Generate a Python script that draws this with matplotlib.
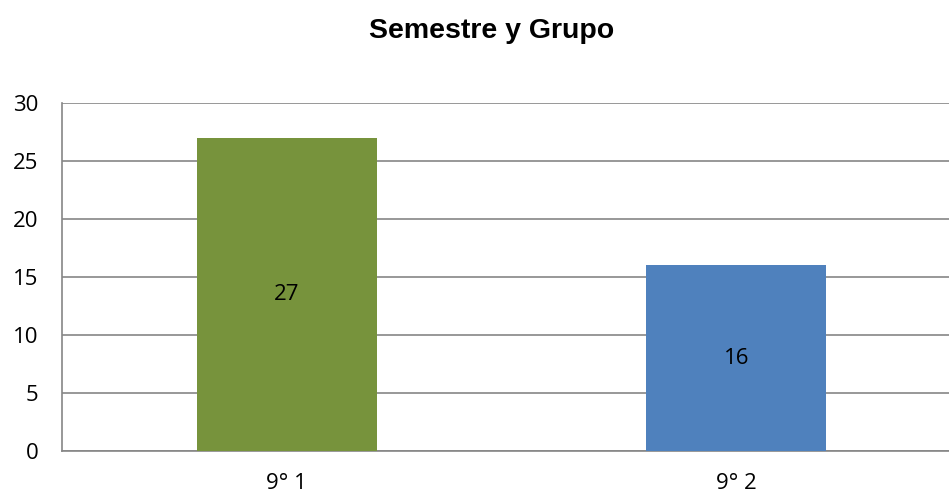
import matplotlib.pyplot as plt
import numpy as np

# data
grupos = ['9° 1', '9° 2']
valores = [27, 16]
colores = ['#77933C', '#4F81BD']

plt.rcParams['font.family'] = ['Open Sans', 'DejaVu Sans']

fig = plt.figure(figsize=(9.49, 4.95), dpi=100)
ax = fig.add_axes([62 / 949, 44 / 495, 899 / 949, 348 / 495])

x = np.arange(len(grupos))
bars = ax.bar(x, valores, width=0.4, color=colores, zorder=3)

# etiquetas dentro de las barras
for b, v in zip(bars, valores):
    ax.text(b.get_x() + b.get_width() / 2, v / 2, str(v),
            ha='center', va='center', fontsize=16, zorder=4)

ax.set_xlim(-0.5, 1.5)
ax.set_ylim(0, 30)
ax.set_yticks(range(0, 31, 5))
ax.set_xticks(x)
ax.set_xticklabels(grupos)
ax.tick_params(axis='both', length=0, labelsize=16)
ax.tick_params(axis='y', pad=17)
ax.tick_params(axis='x', pad=16)

ax.grid(axis='y', color='#868686', linewidth=1.2, zorder=0)
for s in ['top', 'right']:
    ax.spines[s].set_visible(False)
ax.spines['left'].set_color('#868686')
ax.spines['left'].set_linewidth(1.2)
ax.spines['bottom'].set_color('#868686')
ax.spines['bottom'].set_linewidth(1.2)

fig.text(492 / 949, 1 - 31 / 495, 'Semestre y Grupo', ha='center', va='center',
         fontsize=20.5, fontweight='bold', family=['Liberation Sans', 'DejaVu Sans'])

fig.savefig('out.png', dpi=100)
